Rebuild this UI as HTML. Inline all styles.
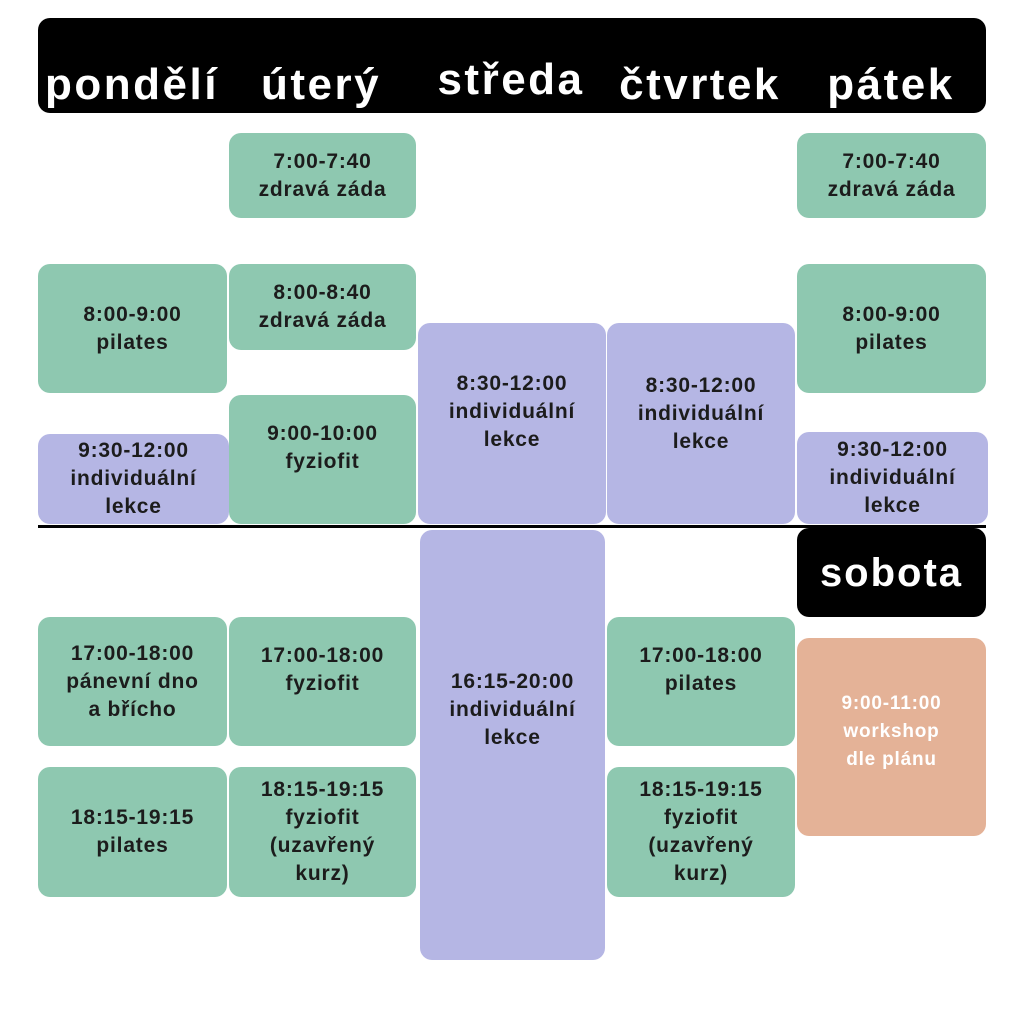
<!DOCTYPE html>
<html><head><meta charset="utf-8"><style>
body{margin:0;width:1024px;height:1024px;background:#fff;position:relative;overflow:hidden;font-family:"Liberation Sans",sans-serif}
.b{position:absolute;border-radius:12px;display:flex;align-items:center;justify-content:center;text-align:center;font-weight:bold;font-size:21px;line-height:28px;color:#1c1c1c;letter-spacing:0.8px}
.g{background:#8ec8b0}.p{background:#b5b6e4}.o{background:#e4b297;color:#fff}
.k{background:#000;color:#fff}
.h{position:absolute;top:52px;color:#fff;font-weight:bold;font-size:44px;width:190px;text-align:center;letter-spacing:2.5px}
</style></head><body>
<div class="b k" style="left:38px;top:18px;width:948px;height:95px"></div>
<div class="h" style="left:37px;top:60px">pondělí</div>
<div class="h" style="left:226px;top:60px">úterý</div>
<div class="h" style="left:416px;top:55px">středa</div>
<div class="h" style="left:605px;top:60px">čtvrtek</div>
<div class="h" style="left:796px;top:60px">pátek</div>

<div class="b g" style="left:229px;top:133px;width:187px;height:85px">7:00-7:40<br>zdravá záda</div>
<div class="b g" style="left:797px;top:133px;width:189px;height:85px">7:00-7:40<br>zdravá záda</div>
<div class="b g" style="left:38px;top:264px;width:189px;height:129px">8:00-9:00<br>pilates</div>
<div class="b g" style="left:229px;top:264px;width:187px;height:86px">8:00-8:40<br>zdravá záda</div>
<div class="b g" style="left:797px;top:264px;width:189px;height:129px">8:00-9:00<br>pilates</div>
<div class="b p" style="left:38px;top:434px;width:191px;height:90px">9:30-12:00<br>individuální<br>lekce</div>
<div class="b g" style="left:229px;top:395px;width:187px;height:129px;padding-bottom:24px;box-sizing:border-box">9:00-10:00<br>fyziofit</div>
<div class="b p" style="left:418px;top:323px;width:188px;height:201px;padding-bottom:24px;box-sizing:border-box">8:30-12:00<br>individuální<br>lekce</div>
<div class="b p" style="left:607px;top:323px;width:188px;height:201px;padding-bottom:20px;box-sizing:border-box">8:30-12:00<br>individuální<br>lekce</div>
<div class="b p" style="left:797px;top:432px;width:191px;height:92px">9:30-12:00<br>individuální<br>lekce</div>

<div style="position:absolute;left:38px;top:525px;width:948px;height:3px;background:#000"></div>

<div class="b k" style="left:797px;top:528px;width:189px;height:89px;font-size:40px;color:#fff;letter-spacing:2px">sobota</div>
<div class="b p" style="left:420px;top:530px;width:185px;height:430px;padding-bottom:70px;box-sizing:border-box">16:15-20:00<br>individuální<br>lekce</div>
<div class="b g" style="left:38px;top:617px;width:189px;height:129px">17:00-18:00<br>pánevní dno<br>a břícho</div>
<div class="b g" style="left:229px;top:617px;width:187px;height:129px;padding-bottom:24px;box-sizing:border-box">17:00-18:00<br>fyziofit</div>
<div class="b g" style="left:607px;top:617px;width:188px;height:129px;padding-bottom:24px;box-sizing:border-box">17:00-18:00<br>pilates</div>
<div class="b o" style="left:797px;top:638px;width:189px;height:198px;font-size:19px;padding-bottom:10px;box-sizing:border-box">9:00-11:00<br>workshop<br>dle plánu</div>
<div class="b g" style="left:38px;top:767px;width:189px;height:130px">18:15-19:15<br>pilates</div>
<div class="b g" style="left:229px;top:767px;width:187px;height:130px">18:15-19:15<br>fyziofit<br>(uzavřený<br>kurz)</div>
<div class="b g" style="left:607px;top:767px;width:188px;height:130px">18:15-19:15<br>fyziofit<br>(uzavřený<br>kurz)</div>
</body></html>
